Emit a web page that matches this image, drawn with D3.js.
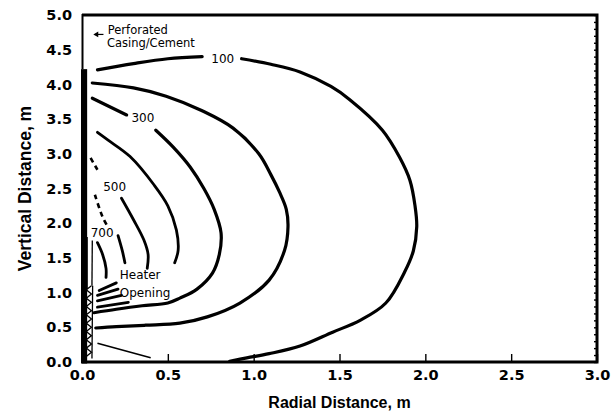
<!DOCTYPE html>
<html>
<head>
<meta charset="utf-8">
<script src="https://cdn.jsdelivr.net/npm/d3@7"></script>
<style>
  body { margin: 0; background: #fff; }
  svg { display: block; }
</style>
</head>
<body>
<div id="ChartDiv"></div>
<script>
// contour lines, [radial m, vertical m], one array of segments per level
const contour100 = [
    [[0.09, 4.21], [0.3, 4.30], [0.5, 4.37], [0.70, 4.40]],
    [[0.93, 4.37], [1.1, 4.29], [1.27, 4.18], [1.45, 3.97], [1.56, 3.78], [1.75, 3.34], [1.85, 2.95],
     [1.91, 2.62], [1.94, 2.25], [1.95, 1.95], [1.93, 1.6], [1.88, 1.3], [1.77, 0.85], [1.62, 0.6],
     [1.46, 0.43], [1.27, 0.23], [1.09, 0.12], [0.96, 0.06], [0.86, 0.01]]
];
const contour200 = [
    [[0.06, 4.02], [0.3, 3.95], [0.49, 3.83], [0.7, 3.62], [0.88, 3.37], [1.03, 3.0], [1.1, 2.7],
     [1.15, 2.45], [1.19, 2.2], [1.2, 1.95], [1.18, 1.61], [1.09, 1.18], [0.92, 0.85], [0.73, 0.65],
     [0.57, 0.56], [0.37, 0.53], [0.2, 0.51], [0.08, 0.49]]
];
const contour300 = [
    [[0.06, 3.8], [0.26, 3.56]],
    [[0.43, 3.34], [0.53, 3.1], [0.63, 2.81], [0.71, 2.5], [0.77, 2.2], [0.81, 1.86], [0.80, 1.55],
     [0.76, 1.28], [0.67, 1.05], [0.57, 0.92], [0.5, 0.85], [0.35, 0.81], [0.2, 0.76], [0.07, 0.71]]
];
const contour400 = [
    [[0.09, 3.31], [0.15, 3.2], [0.28, 2.96], [0.42, 2.55], [0.5, 2.25], [0.55, 1.9], [0.56, 1.61], [0.54, 1.43]],
    [[0.09, 0.79], [0.27, 0.86]]
];
const contour500 = [
    [[0.23, 2.36], [0.30, 2.05], [0.36, 1.76], [0.385, 1.55], [0.38, 1.35]],
    [[0.09, 0.88], [0.23, 0.96]]
];
const contour600 = [
    [[0.21, 1.82], [0.235, 1.6], [0.25, 1.43]],
    [[0.09, 0.96], [0.21, 1.05]]
];
const contour700 = [
    [[0.09, 1.72], [0.12, 1.55], [0.14, 1.35], [0.14, 1.22]],
    [[0.1, 1.03], [0.2, 1.14]]
];
// broken bits near the casing
const dashedBits = [
    [[0.05, 2.94], [0.09, 2.77]],
    [[0.075, 2.41], [0.12, 2.09], [0.15, 1.95]]
];
const contourLevels = [100, 200, 300, 400, 500, 600, 700];
const contourLines = [contour100, contour200, contour300, contour400, contour500, contour600, contour700];

const levelLabels = [
    {text: "100", x: 0.82, y: 4.37},
    {text: "300", x: 0.355, y: 3.52},
    {text: "500", x: 0.19, y: 2.52},
    {text: "700", x: 0.117, y: 1.86}
];

// heater opening and casing
const heaterZig = [[0.025, 0.08], [0.055, 0.14], [0.025, 0.2], [0.055, 0.26], [0.025, 0.32], [0.055, 0.38],
    [0.025, 0.44], [0.055, 0.5], [0.025, 0.56], [0.055, 0.62], [0.025, 0.68], [0.055, 0.74],
    [0.025, 0.8], [0.055, 0.86], [0.025, 0.92], [0.055, 0.98], [0.025, 1.04], [0.055, 1.1]];
const heaterRails = [
    [[0.03, 1.05], [0.03, 1.8]],
    [[0.058, 1.1], [0.06, 1.75]],
    [[0.058, 0.05], [0.062, 1.1]]
];
const slantLine = [[0.09, 0.27], [0.4, 0.06]];
const casingTop = 4.22;

const xTicks = [0, 0.5, 1.0, 1.5, 2.0, 2.5, 3.0];
const yTicks = [0, 0.5, 1.0, 1.5, 2.0, 2.5, 3.0, 3.5, 4.0, 4.5, 5.0];
const minorTicks = d3.range(0, 51).map(d => d / 10);


function createChart() {
    const W = 612, H = 414;
    const x = d3.scaleLinear().domain([0, 3]).range([82, 597]);
    const y = d3.scaleLinear().domain([0, 5]).range([362, 15]);

    const svg = d3.select("#ChartDiv").append("svg")
        .attr("width", W)
        .attr("height", H)
        .style("background", "#fff");

    const lineGen = d3.line()
        .x(d => x(d[0]))
        .y(d => y(d[1]))
        .curve(d3.curveCatmullRom.alpha(0.5));
    const straight = d3.line().x(d => x(d[0])).y(d => y(d[1]));

    // contours
    contourLines.forEach((segs, i) => {
        svg.append("g")
            .attr("class", "contour-" + contourLevels[i])
            .selectAll("path")
            .data(segs)
            .join("path")
            .attr("d", lineGen)
            .attr("fill", "none")
            .attr("stroke", "#000")
            .attr("stroke-width", i < 3 ? 3.2 : 2.8)
            .attr("stroke-linecap", "round");
    });

    svg.append("g").selectAll("path")
        .data(dashedBits)
        .join("path")
        .attr("d", lineGen)
        .attr("fill", "none")
        .attr("stroke", "#000")
        .attr("stroke-width", 2.6)
        .attr("stroke-dasharray", "5,4");

    svg.append("g").selectAll("text")
        .data(levelLabels)
        .join("text")
        .attr("x", d => x(d.x))
        .attr("y", d => y(d.y))
        .attr("dy", "0.35em")
        .attr("text-anchor", "middle")
        .style("font-family", "DejaVu Sans")
        .style("font-size", "12px")
        .text(d => d.text);

    // heater
    svg.append("path")
        .datum(heaterZig)
        .attr("d", straight)
        .attr("fill", "none")
        .attr("stroke", "#000")
        .attr("stroke-width", 1.3);

    svg.append("g").selectAll("path")
        .data(heaterRails)
        .join("path")
        .attr("d", straight)
        .attr("fill", "none")
        .attr("stroke", "#000")
        .attr("stroke-width", 1.3);

    svg.append("path")
        .datum(slantLine)
        .attr("d", straight)
        .attr("fill", "none")
        .attr("stroke", "#000")
        .attr("stroke-width", 1.6);

    const heaterText = svg.append("text")
        .style("font-family", "DejaVu Sans")
        .style("font-size", "12px");
    heaterText.append("tspan").attr("x", x(0.22)).attr("y", y(1.25)).attr("dy", "0.35em").text("Heater");
    heaterText.append("tspan").attr("x", x(0.22)).attr("y", y(0.99)).attr("dy", "0.35em").text("Opening");

    // casing annotation
    svg.append("line")
        .attr("x1", x(0.125)).attr("x2", x(0.085))
        .attr("y1", y(4.72)).attr("y2", y(4.72))
        .attr("stroke", "#000")
        .attr("stroke-width", 1.2);
    svg.append("path")
        .attr("d", d3.symbol(d3.symbolTriangle, 14))
        .attr("transform", `translate(${x(0.085)},${y(4.72)}) rotate(-90)`)
        .attr("fill", "#000");
    const casingText = svg.append("text")
        .style("font-family", "DejaVu Sans")
        .style("font-size", "11.5px");
    casingText.append("tspan").attr("x", x(0.15)).attr("y", y(4.79)).attr("dy", "0.35em").text("Perforated");
    casingText.append("tspan").attr("x", x(0.145)).attr("y", y(4.595)).attr("dy", "0.35em").text("Casing/Cement");

    // axes, ticks inward
    const fmt = d3.format(".1f");
    const gx = svg.append("g").attr("transform", `translate(0,${y(0)})`);
    gx.call(d3.axisBottom(x).tickValues(minorTicks.filter(d => d <= 3)).tickSize(-4).tickFormat(""));
    gx.call(d3.axisBottom(x).tickValues(xTicks).tickSize(-8).tickPadding(8).tickFormat(fmt));

    const gy = svg.append("g").attr("transform", `translate(${x(0)},0)`);
    gy.call(d3.axisLeft(y).tickValues(minorTicks).tickSize(-4).tickFormat(""));
    gy.call(d3.axisLeft(y).tickValues(yTicks).tickSize(0).tickPadding(10).tickFormat(fmt));

    const gr = svg.append("g").attr("transform", `translate(${x(3)},0)`);
    gr.call(d3.axisRight(y).tickValues(minorTicks).tickSize(-3).tickFormat(""));

    svg.selectAll(".domain").remove();
    svg.selectAll(".tick line").attr("stroke", "#000").attr("stroke-width", 1.4);
    svg.selectAll(".tick text")
        .attr("fill", "#000")
        .style("font-family", "DejaVu Sans")
        .style("font-weight", "bold")
        .style("font-size", "14.5px");

    // frame
    svg.append("path")
        .attr("d", `M${x(0)},${y(5)} H${x(3)} V${y(0)} H${x(0)}`)
        .attr("fill", "none")
        .attr("stroke", "#000")
        .attr("stroke-width", 3)
        .attr("stroke-linejoin", "miter");
    svg.append("line")
        .attr("x1", x(0) + 0.5).attr("x2", x(0) + 0.5)
        .attr("y1", y(5) - 1).attr("y2", y(casingTop))
        .attr("stroke", "#000")
        .attr("stroke-width", 2);
    svg.append("rect")
        .attr("x", x(0) - 1)
        .attr("y", y(casingTop))
        .attr("width", x(0.03) - x(0) + 1)
        .attr("height", y(0) - y(casingTop) + 1.5)
        .attr("fill", "#000");

    // axis titles
    svg.append("text")
        .attr("x", (x(0) + x(3)) / 2)
        .attr("y", 408)
        .attr("text-anchor", "middle")
        .style("font-family", "Liberation Sans")
        .style("font-weight", "bold")
        .style("font-size", "16px")
        .text("Radial Distance, m");

    svg.append("text")
        .attr("transform", `translate(31,${(y(0) + y(5)) / 2}) rotate(-90)`)
        .attr("text-anchor", "middle")
        .style("font-family", "Liberation Sans")
        .style("font-weight", "bold")
        .style("font-size", "17.5px")
        .text("Vertical Distance, m");
}

createChart();
</script>
</body>
</html>
